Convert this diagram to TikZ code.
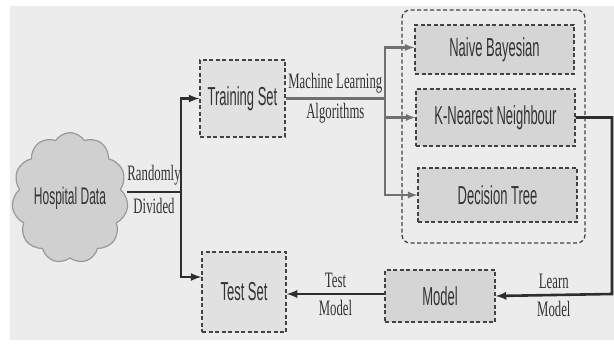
\documentclass[tikz,border=0pt]{standalone}
\usepackage{fontspec}
\setmainfont{Liberation Serif}[FakeStretch=0.58]
\setsansfont{Liberation Sans}[FakeStretch=0.5]
\usepackage{tikz}
\usetikzlibrary{shapes,arrows,positioning,fit,backgrounds}
\definecolor{bggray}{HTML}{ECECEC}
\definecolor{setgray}{HTML}{E1E1E1}
\definecolor{algogray}{HTML}{D5D5D5}
\definecolor{cloudgray}{HTML}{D0D0D0}
\definecolor{edgedark}{HTML}{2E2E2E}
\definecolor{edgelight}{HTML}{707070}
\tikzstyle{setbox} = [rectangle, draw=edgedark!90, dashed, dash pattern=on 4pt off 2.5pt, line width=1.3pt, fill=setgray, text=black!80, font=\sffamily\fontsize{26}{28}\selectfont, inner sep=0pt]
\tikzstyle{algobox} = [setbox, fill=algogray]
\tikzstyle{datacloud} = [cloud, cloud puffs=11, cloud puff arc=115, aspect=0.85, draw=gray!80, line width=1.2pt, fill=cloudgray, text=black!80, font=\sffamily\fontsize{24}{26}\selectfont, inner sep=0pt, minimum width=92pt, minimum height=108pt]
\tikzstyle{elabel} = [draw=none, fill=none, text=black!80, text centered, font=\rmfamily\fontsize{22}{24}\selectfont, inner sep=0pt]
\tikzstyle{tedge}  = [draw=edgedark, line width=2.6pt, >=latex, ->]
\tikzstyle{aedge}  = [draw=edgelight, line width=2.2pt, >=latex, ->]

\begin{document}
\begin{tikzpicture}[x=1pt, y=-1pt]
%background
\useasboundingbox (0,0) rectangle (614,345);
\fill[bggray] (10,6) rectangle (614,340);

%image
\node[datacloud] (hosp) at (70,198) {Hospital Data};
\node[setbox, minimum width=85pt, minimum height=77pt] (train) at (242.5,98.5) {Training Set};
\node[setbox, minimum width=84pt, minimum height=80pt] (test) at (244,292) {Test Set};

\node[algobox, minimum width=159pt, minimum height=49pt] (naive) at (494.5,49.5) {Naive Bayesian};
\node[algobox, minimum width=159pt, minimum height=57pt] (knn) at (495.5,117.5) {K-Nearest Neighbour};
\node[algobox, minimum width=159pt, minimum height=54pt] (tree) at (497.5,195) {Decision Tree};
\node[setbox, fill=none, rounded corners=8pt, minimum width=183pt, minimum height=233pt] (algos) at (493.5,126.5) {};

\node[algobox, minimum width=110pt, minimum height=52pt] (model) at (440,296) {Model};

\coordinate (split) at (181,192);
\coordinate (branch) at (385,98.5);
\coordinate (corner) at (612,294);

%paths
\draw[tedge, -] (hosp.east |- split) -- (split)
    node[elabel, midway, above=5pt] {Randomly}
    node[elabel, midway, below=5pt] {Divided};
\path[tedge] (split) |- (train.west);
\path[tedge] (split) |- ([yshift=15pt]test.west);

\draw[aedge, -] (train.east) -- (branch)
    node[elabel, midway, above=4pt] {Machine Learning}
    node[elabel, midway, below=4pt] {Algorithms};
\path[aedge] (branch) |- ([yshift=2pt]naive.west);
\path[aedge] (branch) |- (knn.west);
\path[aedge] (branch) |- (tree.west);

\draw[tedge] (knn.east) -| (corner) -- (model.east)
    node[elabel, midway, above=5pt] {Learn}
    node[elabel, midway, below=5pt] {Model};
\draw[tedge] (model.west |- corner) -- (test.east |- corner)
    node[elabel, midway, above=5pt] {Test}
    node[elabel, midway, below=5pt] {Model};

\end{tikzpicture}
\end{document}
